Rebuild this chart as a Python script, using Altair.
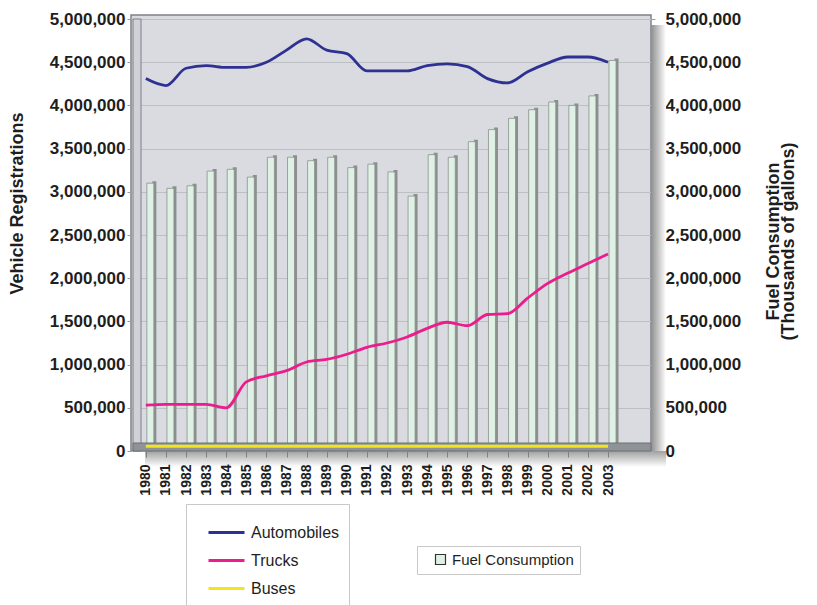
import altair as alt
import pandas as pd

years = list(range(1980, 2004))
automobiles = [4310000, 4230000, 4430000, 4460000, 4440000, 4440000, 4500000, 4640000,
               4770000, 4640000, 4600000, 4400000, 4400000, 4400000, 4460000, 4480000,
               4450000, 4310000, 4260000, 4390000, 4490000, 4560000, 4560000, 4500000]
trucks = [530000, 540000, 540000, 540000, 500000, 800000, 870000, 930000,
          1030000, 1060000, 1120000, 1200000, 1250000, 1320000, 1420000, 1490000,
          1450000, 1580000, 1590000, 1770000, 1940000, 2060000, 2170000, 2280000]
buses = [55000, 55000, 55000, 55000, 55000, 55000, 55000, 55000,
         55000, 55000, 55000, 55000, 55000, 55000, 55000, 55000,
         55000, 55000, 55000, 55000, 55000, 55000, 55000, 55000]
fuel = [3100000, 3040000, 3070000, 3240000, 3260000, 3170000, 3400000, 3400000,
        3360000, 3400000, 3280000, 3320000, 3230000, 2950000, 3430000, 3400000,
        3580000, 3720000, 3850000, 3950000, 4040000, 4000000, 4110000, 4520000]

series_names = ["Automobiles", "Trucks", "Buses"]
series_colors = ["#2e3192", "#ec1c8c", "#f2e51a"]
bar_name = "Fuel Consumption"
bar_color = "#dff0e5"
y_ticks = [0, 500000, 1000000, 1500000, 2000000, 2500000, 3000000, 3500000,
           4000000, 4500000, 5000000]

lines_df = pd.DataFrame({
    "Year": years * 3,
    "Series": ["Automobiles"] * 24 + ["Trucks"] * 24 + ["Buses"] * 24,
    "Value": automobiles + trucks + buses,
})
bars_df = pd.DataFrame({"Year": years, "Fuel": fuel, "Series": [bar_name] * 24})
one = pd.DataFrame({"k": [0]})

W, H = 520, 436
FONT = "Liberation Sans"
TXT = "#1e1e1e"

xscale = alt.Scale(domain=[1979.51, 2004.89], nice=False, zero=False)
yscale_l = alt.Scale(domain=[0, 5000000], nice=False, range=[H, 4])
yscale_r = alt.Scale(domain=[0, 5000000], nice=False, range=[H, 4])

x_axis = alt.Axis(values=years, format="d", labelAngle=-90, labelFont=FONT,
                  labelFontSize=14, labelFontWeight="bold", labelColor=TXT,
                  tickSize=6, tickColor="#808080", domain=False, grid=False,
                  title=None, labelPadding=7, labelFlush=False, labelOverlap=False,
                  zindex=2)

left_axis = alt.Axis(orient="left", values=y_ticks, format=",d", labelFont=FONT,
                     labelFontSize=17, labelFontWeight="bold", labelColor=TXT,
                     tickSize=4, tickColor="#9a9a9a", domain=False, grid=True,
                     gridColor="#bcbfc4", gridWidth=1, labelPadding=2,
                     title="Vehicle Registrations", titleFont=FONT, titleFontSize=18,
                     titleFontWeight="bold", titleColor=TXT, titleAngle=270,
                     titleX=-105, titleY=188)

right_axis = alt.Axis(orient="right", values=y_ticks, format=",d", labelFont=FONT,
                      labelFontSize=17, labelFontWeight="bold", labelColor=TXT,
                      tickSize=4, tickColor="#9a9a9a", domain=False, grid=False,
                      labelPadding=10,
                      title=["Fuel Consumption", "(Thousands of gallons)"],
                      titleFont=FONT, titleFontSize=18, titleFontWeight="bold",
                      titleColor=TXT, titleAngle=270, titleX=131, titleY=226,
                      titleLineHeight=15)

# decorative frame pieces
shadow_r = alt.Chart(one).mark_rect(
    color=alt.Gradient(gradient="linear",
                       stops=[alt.GradientStop(color="#8e8e8e", offset=0),
                              alt.GradientStop(color="#ffffff", offset=1)],
                       x1=0, x2=1, y1=0, y2=0)
).encode(x=alt.value(W), x2=alt.value(W + 15), y=alt.value(10), y2=alt.value(H + 8))

shadow_b = alt.Chart(one).mark_rect(
    color=alt.Gradient(gradient="linear",
                       stops=[alt.GradientStop(color="#a0a0a0", offset=0),
                              alt.GradientStop(color="#ffffff", offset=1)],
                       x1=0, x2=0, y1=0, y2=1)
).encode(x=alt.value(14), x2=alt.value(W + 15), y=alt.value(H), y2=alt.value(H + 16))

left_wall = alt.Chart(one).mark_rect(fill="#cfd2d7", stroke="#7d8186", strokeWidth=1).encode(
    x=alt.value(2), x2=alt.value(10), y=alt.value(4), y2=alt.value(H))

side = alt.Chart(bars_df).mark_bar(width=4, xOffset=8.5, yOffset=-2, color="#8b908d").encode(
    x=alt.X("Year:Q", scale=xscale, axis=x_axis),
    y=alt.Y("Fuel:Q", scale=yscale_r, axis=right_axis),
)
face = alt.Chart(bars_df).mark_bar(width=7, xOffset=4.5, stroke="#8b908d", strokeWidth=0.8).encode(
    x=alt.X("Year:Q", scale=xscale, axis=x_axis),
    y=alt.Y("Fuel:Q", scale=yscale_r, axis=right_axis),
    fill=alt.Fill("Series:N", scale=alt.Scale(domain=[bar_name], range=[bar_color]),
                  legend=alt.Legend(title=None, orient="none", legendX=286, legendY=531,
                                    symbolType="square", symbolSize=100,
                                    symbolStrokeColor="#333333", symbolStrokeWidth=1.2,
                                    labelFont=FONT, labelFontSize=15, labelColor=TXT,
                                    strokeColor="#c8c8c8", fillColor="white",
                                    padding=6, symbolOffset=10)),
)
bars = alt.layer(side, face)

floor = alt.Chart(one).mark_rect(fill="#8f9398", stroke="#6c7075", strokeWidth=1).encode(
    x=alt.value(2), x2=alt.value(W), y=alt.value(H - 8), y2=alt.value(H))

lines = alt.Chart(lines_df).mark_line(strokeWidth=2.8, interpolate="monotone").encode(
    x=alt.X("Year:Q", scale=xscale, axis=x_axis),
    y=alt.Y("Value:Q", scale=yscale_l, axis=left_axis),
    color=alt.Color("Series:N", sort=series_names,
                    scale=alt.Scale(domain=series_names, range=series_colors),
                    legend=alt.Legend(title=None, orient="none", legendX=55, legendY=489,
                                      symbolType="stroke", symbolStrokeWidth=3,
                                      symbolSize=1296, labelFont=FONT, labelFontSize=16,
                                      labelColor=TXT, strokeColor="#c8c8c8",
                                      fillColor="white", padding=9, rowPadding=0,
                                      symbolOffset=12, labelOffset=5)),
    detail="Series:N",
)

chart = alt.layer(shadow_r, shadow_b, left_wall, bars, floor, lines).resolve_scale(
    y="independent", color="independent", fill="independent"
).properties(
    width=W, height=H,
    padding={"left": 131, "top": 15, "right": 166, "bottom": 154},
    autosize="none",
    background="white",
).configure_view(fill="#d9dbe0", stroke="#7d8186", strokeWidth=1.5)

chart.save("out.html", embed_options={"renderer": "svg", "actions": False})
